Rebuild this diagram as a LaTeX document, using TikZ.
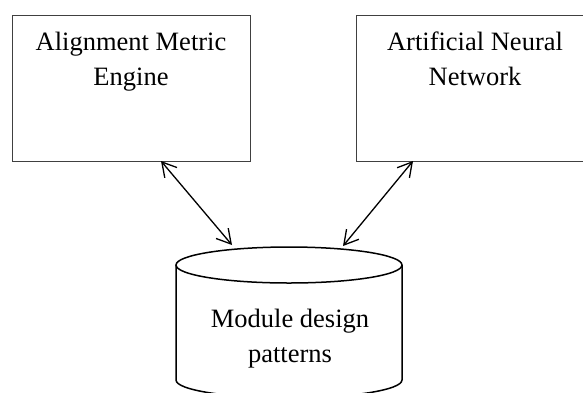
\documentclass[tikz,border=0pt]{standalone}
\usepackage{fontspec}
\setmainfont{Liberation Serif}
\usetikzlibrary{arrows.meta}
\begin{document}
\begin{tikzpicture}[x=1pt,y=-1pt,
  box/.style={draw=black!75, line width=1pt, minimum width=238pt, minimum height=146pt,
    inner sep=0pt, anchor=north west},
  caption/.style={font=\fontsize{26.5}{35}\selectfont, align=center, anchor=north, inner sep=0pt},
  link/.style={line width=1.3pt,
    {Straight Barb[length=14pt,width=16pt]}-{Straight Barb[length=14pt,width=16pt]}},
  tank/.style={line width=1.5pt}]
\useasboundingbox (0,0) rectangle (583,392);
\clip (0,0) rectangle (583,392);

% the two processing components
\node[box] (ame) at (12,15) {};
\node[box] (ann) at (356,15) {};
\node[caption] (ametext) at (131,32) {Alignment Metric\\Engine};
\node[caption] (anntext) at (475,32) {Artificial Neural\\Network};

% the pattern store, drawn as a cylinder (y grows downwards here)
\draw[tank] (289,265) ellipse [x radius=113, y radius=18];
\draw[tank] (176,265) -- (176,380)
  arc[start angle=180, end angle=0, x radius=113, y radius=18] -- (402,265);
\node[caption] (mdp) at (290,309) {Module design\\patterns};

% ends of the two-way links
\coordinate (ameport) at (161,161);
\coordinate (annport) at (413,161);
\coordinate (mdpleft) at (232,245);
\coordinate (mdpright) at (343,246);

\draw[link] (ameport) -- (mdpleft);
\draw[link] (annport) -- (mdpright);
\end{tikzpicture}
\end{document}
